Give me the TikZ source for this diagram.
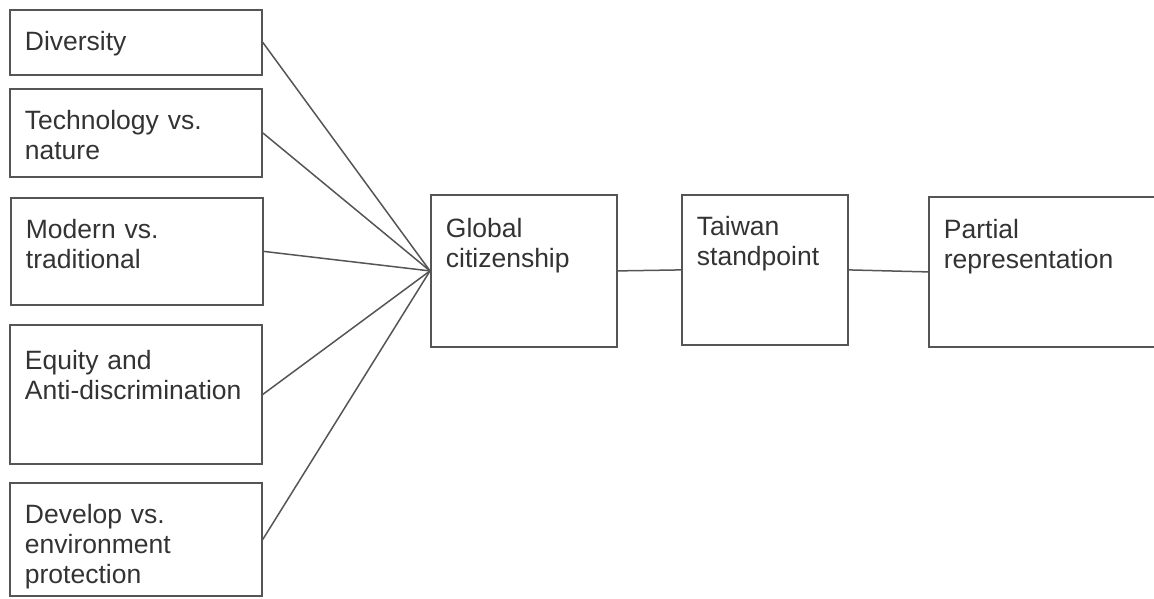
\documentclass[tikz,border=0pt]{standalone}
\usepackage{fontspec}
\setmainfont{Liberation Sans}
\definecolor{linegray}{HTML}{555555}
\definecolor{textgray}{HTML}{333333}
\tikzset{
  box/.style={draw=linegray, line width=1.8pt, anchor=north west,
    inner xsep=15pt, inner ysep=0pt, align=left, text height=41pt,
    text=textgray, font=\fontsize{26.5}{30}\selectfont},
  link/.style={draw=linegray, line width=1.5pt}
}
\begin{document}
\begin{tikzpicture}[x=1pt,y=-1pt]
    \useasboundingbox (0,0) rectangle (1154,598);
    \clip (0,0) rectangle (1154,598);
    % themes on the left
    \node (div) [box, text width=222pt, text depth=24pt] at (9,9) {Diversity};
    \node (tech) [box, text width=222pt, text depth=47pt] at (9,88) {Technology vs.\\nature};
    \node (mod) [box, text width=222pt, text depth=66pt] at (10,197) {Modern vs.\\traditional};
    \node (eq) [box, text width=222pt, text depth=94pt, text height=45pt] at (9,324) {Equity and\\Anti-discrimination};
    \node (dev) [box, text width=222pt, text depth=72pt] at (9,482) {Develop vs.\\environment\\protection};
    % chain
    \node (glob) [box, text width=156pt, text depth=109pt, text height=43pt] at (430,194) {Global\\citizenship};
    \node (twn) [box, text width=136pt, text depth=109pt] at (681,194) {Taiwan\\standpoint};
    \node (part) [box, text width=240pt, text depth=108pt, text height=42pt] at (928,196) {Partial\\representation};
    \foreach \t in {div,tech,mod,eq,dev}
      \draw [link] (\t.east) -- (glob.west);
    \draw [link] (glob.east) -- (twn.west);
    \draw [link] (twn.east) -- (part.west);
\end{tikzpicture}
\end{document}
